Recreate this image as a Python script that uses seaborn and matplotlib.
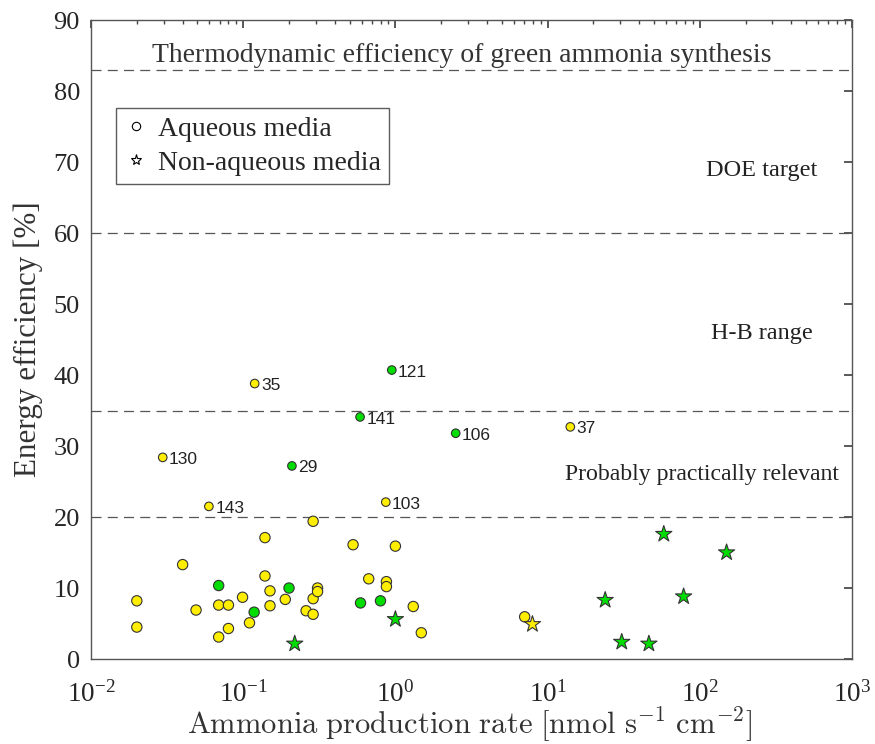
import numpy as np
import pandas as pd
import matplotlib
matplotlib.use("Agg")
import matplotlib.pyplot as plt
import seaborn as sns
from matplotlib.lines import Line2D
from matplotlib.ticker import LogLocator, NullFormatter

# --- datos ---
# medio acuoso, amarillo
acu_am_x = [0.02, 0.02, 0.04, 0.049, 0.069, 0.08, 0.069, 0.08, 0.099, 0.11,
            0.139, 0.139, 0.15, 0.15, 0.189, 0.259, 0.288, 0.288, 0.288, 0.308,
            0.308, 0.527, 0.668, 0.873, 0.873, 1.0, 1.31, 1.48, 7.07]
acu_am_y = [8.2, 4.5, 13.3, 6.9, 7.6, 7.6, 3.1, 4.3, 8.7, 5.1,
            17.1, 11.7, 9.6, 7.5, 8.4, 6.8, 19.4, 8.5, 6.3, 10.0,
            9.5, 16.1, 11.3, 10.9, 10.2, 15.9, 7.4, 3.7, 5.95]
# medio acuoso, verde
acu_ve_x = [0.069, 0.118, 0.2, 0.59, 0.798]
acu_ve_y = [10.35, 6.6, 10.0, 7.9, 8.2]
# medio no acuoso
noacu_ve_x = [0.218, 1.0, 23.9, 30.7, 46.3, 58, 78.3, 150]
noacu_ve_y = [2.15, 5.6, 8.3, 2.4, 2.15, 17.6, 8.8, 15.0]
noacu_am_x = [7.95]
noacu_am_y = [4.9]

# puntos con referencia
ref_id = ["35", "121", "141", "130", "29", "143", "103", "106", "37"]
ref_x = [0.119, 0.947, 0.586, 0.0296, 0.209, 0.0595, 0.865, 2.49, 14.1]
ref_y = [38.8, 40.7, 34.1, 28.4, 27.2, 21.5, 22.1, 31.8, 32.7]
ref_color = ["y", "g", "g", "y", "g", "y", "y", "g", "y"]

# lineas de referencia
niveles = [20, 35, 60, 83]

df = pd.concat([
    pd.DataFrame({"x": acu_am_x, "y": acu_am_y, "color": "y", "medio": "Aqueous media"}),
    pd.DataFrame({"x": acu_ve_x, "y": acu_ve_y, "color": "g", "medio": "Aqueous media"}),
    pd.DataFrame({"x": noacu_ve_x, "y": noacu_ve_y, "color": "g", "medio": "Non-aqueous media"}),
    pd.DataFrame({"x": noacu_am_x, "y": noacu_am_y, "color": "y", "medio": "Non-aqueous media"}),
], ignore_index=True)
df_ref = pd.DataFrame({"x": ref_x, "y": ref_y, "color": ref_color, "id": ref_id})

paleta = {"y": "#FFEE00", "g": "#00DD00"}
gris = "#333333"

sns.set_theme(style="white")
plt.rcParams["font.family"] = ["Liberation Serif", "DejaVu Serif"]
plt.rcParams["mathtext.fontset"] = "cm"
plt.rcParams["xtick.direction"] = "in"
plt.rcParams["ytick.direction"] = "in"

fig = plt.figure(figsize=(8.75, 7.44), dpi=100)
ax = fig.add_axes([0.104, 0.1142, 0.8697, 0.8589])
ax.set_xscale("log")

for nv in niveles:
    ax.axhline(nv, color="#555555", lw=0.9, dashes=(8, 5), zorder=1)

sns.scatterplot(data=df, x="x", y="y", hue="color", palette=paleta,
                style="medio", markers={"Aqueous media": "o", "Non-aqueous media": "*"},
                size="medio", sizes={"Aqueous media": 55, "Non-aqueous media": 150},
                edgecolor=gris, linewidth=0.8, legend=False, ax=ax, zorder=3)
sns.scatterplot(data=df_ref, x="x", y="y", hue="color", palette=paleta,
                s=38, edgecolor=gris, linewidth=0.8, legend=False, ax=ax, zorder=3)

for _, r in df_ref.iterrows():
    ax.annotate(r["id"], (r["x"], r["y"]), xytext=(4.5, -1.5), textcoords="offset points",
                fontsize=12.5, family=["Liberation Sans", "DejaVu Sans"],
                color="#222222", va="center", ha="left")

ax.text(2.73, 85.0, "Thermodynamic efficiency of green ammonia synthesis",
        ha="center", va="center", fontsize=20, color="#333333")
ax.text(255, 68.8, "DOE target", ha="center", va="center", fontsize=17.5, color="#222222")
ax.text(255, 45.8, "H-B range", ha="center", va="center", fontsize=17.5, color="#222222")
ax.text(13.0, 26.0, "Probably practically relevant", ha="left", va="center",
        fontsize=17.1, color="#222222")

ax.set_xlim(1e-2, 1e3)
ax.set_ylim(0, 90)
ax.set_yticks(range(0, 91, 10))
ax.xaxis.set_major_locator(LogLocator(base=10, numticks=10))
ax.xaxis.set_minor_locator(LogLocator(base=10, subs=np.arange(2, 10), numticks=20))
ax.xaxis.set_minor_formatter(NullFormatter())
ax.tick_params(axis="both", which="both", top=True, right=True, colors="#444444",
               labelcolor="#262626")
ax.tick_params(axis="x", which="major", length=6, pad=16, labelsize=19.5)
ax.tick_params(axis="x", which="minor", length=3)
ax.tick_params(axis="y", length=6, pad=8, labelsize=19)

for sp in ax.spines.values():
    sp.set_color("#555555")
    sp.set_linewidth(1.0)

ax.set_xlabel(r"$\mathrm{Ammonia\ production\ rate\ [nmol\ s^{-1}\ cm^{-2}]}$",
              fontsize=22, color="#333333")
ax.xaxis.label.set_va("baseline")
ax.xaxis.set_label_coords(0.498, -0.119)
ax.set_ylabel("Energy efficiency [%]", fontsize=22.4, color="#333333")
ax.yaxis.label.set_va("center")
ax.yaxis.set_label_coords(-0.083, 0.50)

handles = [
    Line2D([], [], marker="o", ls="none", mfc="white", mec="black", mew=0.8, ms=6),
    Line2D([], [], marker="*", ls="none", mfc="white", mec="black", mew=0.8, ms=8),
]
leg = ax.legend(handles, ["Aqueous media", "Non-aqueous media"], loc="upper left",
                bbox_to_anchor=(0.033, 0.862), fontsize=20, frameon=True, fancybox=False,
                handlelength=0.8, handletextpad=0.4, borderpad=0.3, labelspacing=0.3,
                borderaxespad=0)
leg.get_frame().set_edgecolor("#333333")
leg.get_frame().set_linewidth(1.0)

fig.savefig("out.png", dpi=100)
